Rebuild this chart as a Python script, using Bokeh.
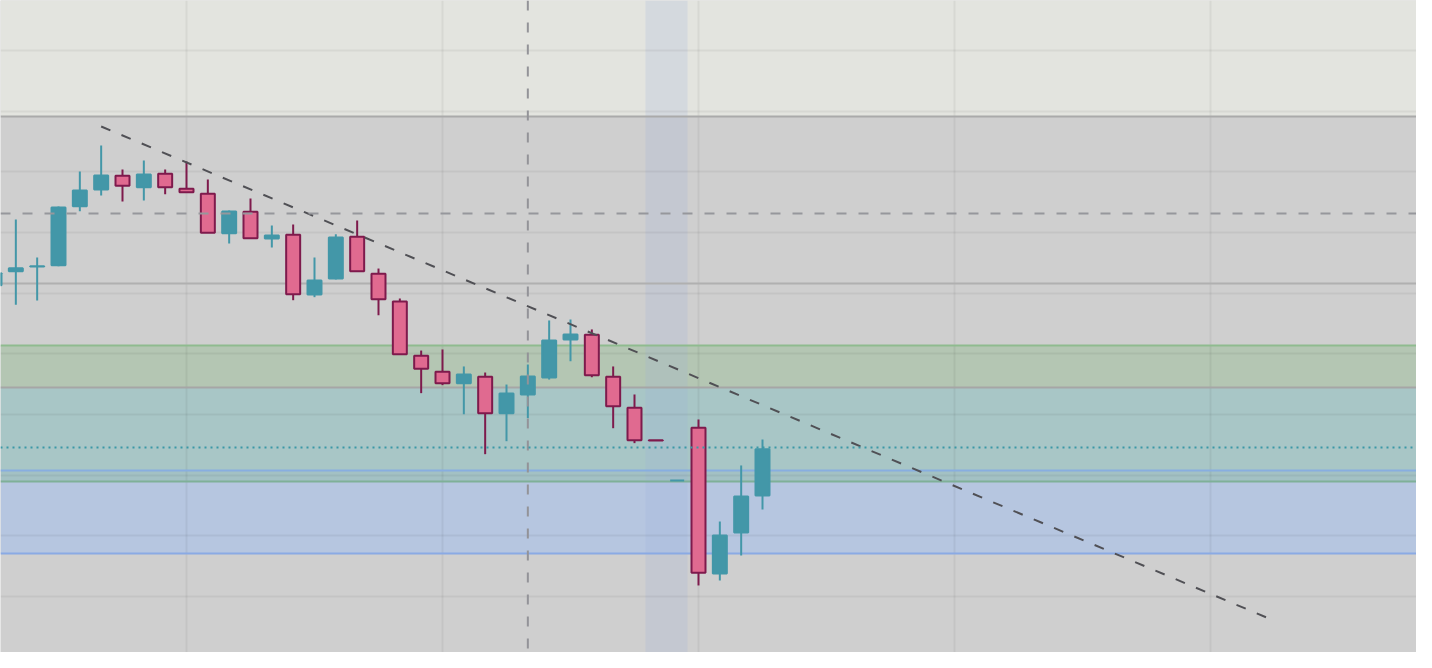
from bokeh.plotting import figure
from bokeh.models import FixedTicker, Span
from bokeh.embed import file_html
from bokeh.resources import INLINE

# ---- candle data (index, OHLC) ----
idx = list(range(-1, 36))
opens = [130.66, 131.81, 132.20, 132.31, 137.17, 138.54, 139.67, 138.73, 139.84, 138.60,
         138.19, 134.94, 136.71, 134.51, 134.81, 129.89, 131.21, 134.65, 131.60, 129.31,
         124.84, 123.52, 122.58, 123.11, 120.11, 121.65, 123.05, 126.18, 126.57, 123.11,
         120.55, 117.87, 114.56, 118.90, 106.90, 110.27, 113.32]
highs = [131.87, 136.07, 132.94, 137.14, 140.03, 142.17, 140.19, 140.93, 140.19, 140.85,
         139.37, 136.81, 137.80, 135.58, 135.66, 132.94, 134.86, 135.99, 132.03, 129.56,
         125.27, 125.36, 123.96, 123.46, 122.47, 124.12, 127.75, 127.83, 127.01, 123.96,
         121.65, 117.87, 114.56, 119.59, 111.18, 115.80, 117.94]
lows = [130.38, 129.04, 129.40, 132.22, 136.76, 138.05, 137.55, 137.64, 138.16, 138.32,
        134.98, 134.09, 134.53, 133.76, 129.42, 129.67, 131.13, 131.81, 128.18, 124.97,
        121.76, 122.42, 120.02, 116.73, 117.80, 119.70, 122.88, 124.39, 123.07, 118.87,
        117.64, 117.86, 114.56, 105.91, 106.32, 108.38, 112.17]
closes = [131.65, 132.06, 132.22, 137.06, 138.46, 139.70, 138.85, 139.78, 138.73, 138.32,
          134.98, 136.73, 134.53, 134.75, 129.91, 131.04, 134.59, 131.81, 129.50, 124.97,
          123.77, 122.58, 123.30, 120.11, 121.73, 123.13, 126.10, 126.59, 123.24, 120.68,
          117.88, 117.86, 114.56, 106.95, 110.03, 113.24, 117.14]

# ---- zones / levels ----
zone_bottom = [144.56, 122.23, 115.38, 114.48, 108.57]
zone_top = [200.0, 125.69, 122.23, 115.38, 114.48]
zone_color = ["#e3e4df", "#b4c6b3", "#a8c6c6", "#a3c1c4", "#b6c6e0"]

level_y = [144.56, 130.80, 125.69, 122.23, 115.38, 114.48, 108.57]
level_color = ["#aaaaaa", "#b0b0b0", "#8fbb8f", "#a6a6a6", "#88aee0", "#7fb098", "#8aaae4"]

resistance_level = 136.57
target_level = 117.28
event_index = 24
highlight_start, highlight_end = 29.5, 31.5

trend_x = [4.0, 58.63]
trend_y = [143.74, 103.27]

grid_x = [8, 20, 32, 44, 56]
grid_y = [100, 105, 110, 115, 120, 125, 130, 135, 140, 145, 150]

TEAL = "#4397a8"
PINK = "#e06a90"
MAROON = "#7e1a4c"

p = figure(width=1416, height=652, output_backend="svg", toolbar_location=None,
           x_range=(-0.7187, 65.656), y_range=(100.385, 154.121),
           x_axis_location=None, y_axis_location=None, min_border=0,
           background_fill_color="#cfcfcf", border_fill_color="#cfcfcf",
           outline_line_color=None)

p.xgrid.ticker = FixedTicker(ticks=grid_x)
p.ygrid.ticker = FixedTicker(ticks=grid_y)
for g in (p.xgrid, p.ygrid):
    g.grid_line_color = "black"
    g.grid_line_alpha = 0.05
    g.grid_line_width = 2

zr = p.hstrip(y0=zone_bottom, y1=zone_top, fill_color=zone_color, line_color=None)
zr.level = "image"
vr = p.vstrip(x0=[highlight_start], x1=[highlight_end], fill_color="#9db1dc",
              fill_alpha=0.2, line_color=None)
vr.level = "image"

p.hspan(y=level_y, line_color=level_color, line_width=2)

up_i = [i for i, o, c in zip(idx, opens, closes) if c >= o]
dn_i = [i for i, o, c in zip(idx, opens, closes) if c < o]

def pick(arr, sel):
    return [arr[idx.index(i)] for i in sel]

p.segment(x0=up_i, x1=up_i, y0=pick(highs, up_i), y1=pick(lows, up_i),
          line_color=TEAL, line_width=2)
p.segment(x0=dn_i, x1=dn_i, y0=pick(highs, dn_i), y1=pick(lows, dn_i),
          line_color=MAROON, line_width=2)
p.vbar(x=up_i, width=0.656, top=pick(closes, up_i), bottom=pick(opens, up_i),
       fill_color=TEAL, line_color=TEAL, line_width=2)
p.vbar(x=dn_i, width=0.656, top=pick(opens, dn_i), bottom=pick(closes, dn_i),
       fill_color=PINK, line_color=MAROON, line_width=2)

p.add_layout(Span(location=resistance_level, dimension="width", line_color="#96979c",
                  line_width=2, line_dash="10 12"))
p.add_layout(Span(location=event_index, dimension="height", line_color="#939398",
                  line_width=2, line_dash="10 12"))
p.add_layout(Span(location=target_level, dimension="width", line_color="#3b98a6",
                  line_width=2, line_dash="2 4"))
p.line(trend_x, trend_y, line_color="#505055", line_width=2, line_dash="10 12")

open("out.html", "w").write(file_html(p, INLINE))
